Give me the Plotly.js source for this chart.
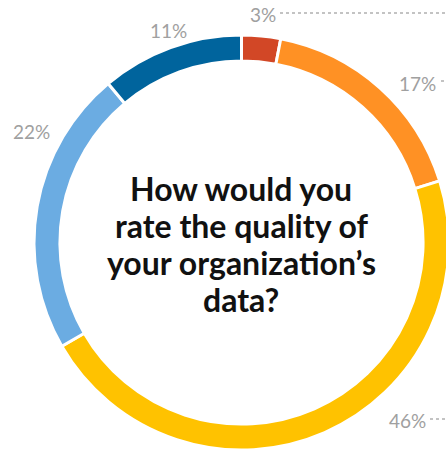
<!DOCTYPE html>
<html>
<head>
<meta charset="utf-8">
<script src="https://cdn.plot.ly/plotly-3.0.1.min.js"></script>
<style>
  html, body { margin: 0; padding: 0; overflow: hidden; background: #fff; }
  #chart { width: 450px; height: 453px; }
</style>
</head>
<body>
<div id="chart"></div>
<script>
// survey answers, clockwise from 12 o'clock
var answers = ["Red", "Orange", "Yellow", "Light blue", "Dark blue"];
var shares = [3, 17, 46, 22, 11];
var colors = ["#D24726", "#FF9124", "#FFC200", "#6BACE2", "#00649D"];
var labelText = ["3%", "17%", "46%", "22%", "11%"];
var question = ["How would you", "rate the quality of", "your organization’s", "data?"];

var W = 450, H = 453;
function px(x) { return x / W; }
function py(y) { return 1 - y / H; }

// where each percentage label sits (pixels)
var labelPos = [[263, 15], [417, 83], [407, 420], [31, 132], [168, 30]];

var trace = {
    type: "pie",
    labels: answers,
    values: shares,
    sort: false,
    direction: "clockwise",
    rotation: 0,
    hole: 0.875,
    textinfo: "none",
    hoverinfo: "label+percent",
    marker: { colors: colors, line: { color: "#fff", width: 3 } },
    domain: { x: [px(34), px(449)], y: [py(450), py(35)] }
};

var annotations = labelText.map(function(t, i) {
    return {
        text: t, showarrow: false,
        xref: "paper", yref: "paper",
        x: px(labelPos[i][0]), y: py(labelPos[i][1]),
        xanchor: "center", yanchor: "middle",
        font: { family: "Lato, sans-serif", size: 19, color: "#a0a0a0" }
    };
});

// question in the hole, one annotation per line so spacing stays tight
question.forEach(function(line, i) {
    annotations.push({
        text: line, showarrow: false, xref: "paper", yref: "paper",
        x: px(241), y: py(188 + i * 37), xanchor: "center", yanchor: "middle",
        font: { family: "Lato, sans-serif", size: 32, color: "#111", weight: 700 }
    });
});

// dotted leaders running off to the right
var leaders = [[280, 13], [441, 81], [430, 419]];
var shapes = leaders.map(function(p) {
    return {
        type: "line", xref: "paper", yref: "paper",
        x0: px(p[0]), x1: px(452), y0: py(p[1]), y1: py(p[1]),
        line: { color: "#b0b0b0", width: 1.5, dash: "dot" }
    };
});

var layout = {
    width: W, height: H,
    margin: { l: 0, r: 0, t: 0, b: 0 },
    showlegend: false,
    paper_bgcolor: "#fff",
    annotations: annotations,
    shapes: shapes
};

Plotly.newPlot("chart", [trace], layout, { displayModeBar: false, staticPlot: true });
</script>
</body>
</html>
